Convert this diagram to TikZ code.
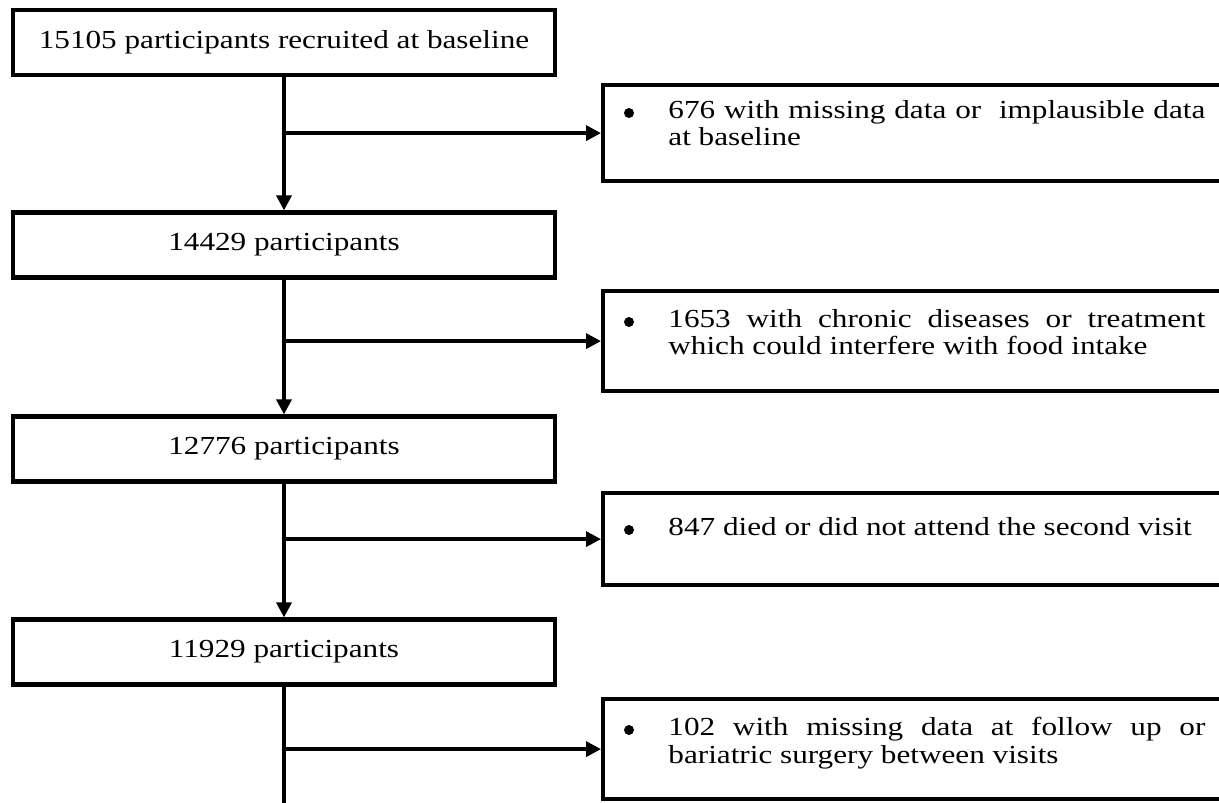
\documentclass[tikz,border=0pt]{standalone}
\usepackage{fontspec}
\setmainfont{Liberation Serif}[FakeStretch=1.2]
\usetikzlibrary{arrows.meta}
\begin{document}
\begin{tikzpicture}[x=0.5pt,y=-0.5pt,
  txt/.style={font=\fontsize{13}{13.75}\selectfont},
  mainbox/.style={draw, line width=2.1pt, minimum width=271pt, minimum height=32.5pt, inner sep=0pt, txt},
  sidebox/.style={draw, line width=2.1pt, minimum width=330pt, anchor=north west, inner sep=0pt},
  sidetext/.style={anchor=north west, inner sep=0pt, align=left, txt},
  bul/.style={circle, fill, inner sep=0pt, minimum size=5pt},
  conn/.style={line width=1.7pt, -{Triangle[width=7.5pt,length=7.5pt]}},
  plain/.style={line width=1.7pt}]
\useasboundingbox (0,0) rectangle (1219,802);
% main boxes
\node[mainbox] (b1) at (284,42.5) {15105 participants recruited at baseline};
\node[mainbox] (b2) at (284,245) {14429 participants};
\node[mainbox] (b3) at (284,449) {12776 participants};
\node[mainbox] (b4) at (284,652) {11929 participants};
% side boxes
\node[sidebox, minimum height=48pt] (r1) at (601,83) {};
\node[sidebox, minimum height=50pt] (r2) at (601,289) {};
\node[sidebox, minimum height=46pt] (r3) at (601,491) {};
\node[sidebox, minimum height=50pt] (r4) at (601,697) {};
% side texts
\node[bul] (u1) at (629,113) {};
\node[sidetext] (t1) at (668,100) {\makebox[268.5pt][s]{676 with missing data or \ implausible data}\\at baseline};
\node[bul] (u2) at (629,322) {};
\node[sidetext] (t2) at (668,309) {\makebox[268.5pt][s]{1653 with chronic diseases or treatment}\\which could interfere with food intake};
\node[bul] (u3) at (629,530) {};
\node[sidetext] (t3) at (668,517) {847 died or did not attend the second visit};
\node[bul] (u4) at (629,730) {};
\node[sidetext] (t4) at (668,717) {\makebox[268.5pt][s]{102 with missing data at follow up or}\\bariatric surgery between visits};
% connectors
\draw[conn] (b1.south) -- (b2.north);
\draw[conn] (b2.south) -- (b3.north);
\draw[conn] (b3.south) -- (b4.north);
\coordinate (bottom) at (284,806);
\draw[plain] (b4.south) -- (bottom);
\draw[conn] (b1.south |- r1.west) -- (r1.west);
\draw[conn] (b2.south |- r2.west) -- (r2.west);
\draw[conn] (b3.south |- r3.west) -- (r3.west);
\draw[conn] (b4.south |- r4.west) -- (r4.west);
\end{tikzpicture}
\end{document}
